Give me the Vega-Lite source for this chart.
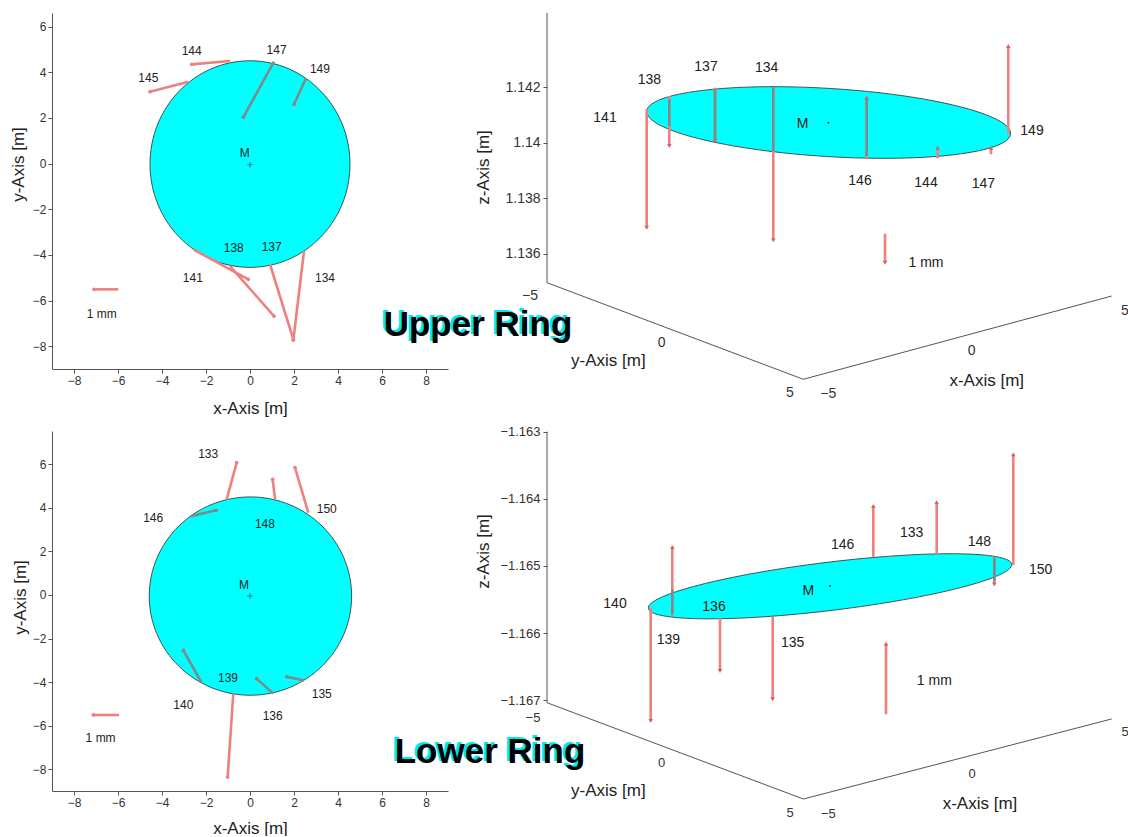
{
  "$schema": "https://vega.github.io/schema/vega-lite/v6.json",
  "background": "white",
  "padding": {"left": 9, "top": 12, "right": 0, "bottom": 0},
  "columns": 2,
  "spacing": {"row": 62, "column": 99},
  "bounds": "flush",
  "align": "each",
  "config": {
    "view": {"stroke": null},
    "font": "Liberation Sans",
    "axis": {
      "grid": false,
      "domainColor": "#555",
      "tickColor": "#555",
      "labelColor": "#333",
      "titleColor": "#222",
      "titleFontWeight": "normal",
      "titleFont": "Liberation Sans",
      "titleFontSize": 17,
      "labelFont": "Liberation Sans Narrow, Liberation Sans",
      "labelFontSize": 12,
      "tickSize": 4,
      "labelPadding": 2
    },
    "text": {"color": "#222"}
  },
  "datasets": {
    "ul_disc": [{"x": 0, "y": -0.02}],
    "ul_center": [{"x": 0, "y": -0.05}],
    "ul_arrows": [
      {"point": "144", "x": -0.909, "y": 4.5, "x_end": -2.65, "y_end": 4.35, "side": "outside"},
      {"point": "145", "x": -2.8, "y": 3.59, "x_end": -4.545, "y_end": 3.15, "side": "outside"},
      {"point": "147", "x": 1.09, "y": 4.47, "x_end": -0.3, "y_end": 2.04, "side": "inside"},
      {"point": "149", "x": 2.545, "y": 3.74, "x_end": 2.0, "y_end": 2.6, "side": "inside"},
      {"point": "141", "x": -2.577, "y": -3.76, "x_end": -0.077, "y_end": -5.07, "side": "outside"},
      {"point": "138", "x": -0.909, "y": -4.49, "x_end": 1.09, "y_end": -6.68, "side": "outside"},
      {"point": "137", "x": 0.909, "y": -4.41, "x_end": 1.97, "y_end": -7.7, "side": "outside"},
      {"point": "134", "x": 2.455, "y": -3.83, "x_end": 1.97, "y_end": -7.74, "side": "outside"},
      {"point": "1 mm", "x": -5.99, "y": -5.51, "x_end": -7.09, "y_end": -5.51, "side": "outside"}
    ],
    "ul_labels": [
      {"text": "144", "x": -2.65, "y": 4.93},
      {"text": "145", "x": -4.62, "y": 3.76},
      {"text": "147", "x": 1.21, "y": 4.97},
      {"text": "149", "x": 3.18, "y": 4.13},
      {"text": "141", "x": -2.6, "y": -5.03},
      {"text": "138", "x": -0.74, "y": -3.68},
      {"text": "137", "x": 0.985, "y": -3.66},
      {"text": "134", "x": 3.41, "y": -5.03},
      {"text": "1 mm", "x": -6.74, "y": -6.58},
      {"text": "M", "x": -0.24, "y": 0.48}
    ],
    "ll_disc": [{"x": 0.02, "y": -0.05}],
    "ll_center": [{"x": 0, "y": -0.05}],
    "ll_arrows": [
      {"point": "133", "x": -1.06, "y": 4.39, "x_end": -0.605, "y_end": 6.08, "side": "outside"},
      {"point": "148", "x": 1.14, "y": 4.39, "x_end": 1.03, "y_end": 5.31, "side": "outside"},
      {"point": "146", "x": -2.73, "y": 3.6, "x_end": -1.545, "y_end": 3.89, "side": "inside"},
      {"point": "150", "x": 2.65, "y": 3.78, "x_end": 2.045, "y_end": 5.85, "side": "outside"},
      {"point": "140", "x": -2.2, "y": -4.03, "x_end": -3.03, "y_end": -2.54, "side": "inside"},
      {"point": "139", "x": -0.76, "y": -4.53, "x_end": -1.015, "y_end": -8.36, "side": "outside"},
      {"point": "136", "x": 1.06, "y": -4.53, "x_end": 0.3, "y_end": -3.84, "side": "inside"},
      {"point": "135", "x": 2.45, "y": -3.92, "x_end": 1.67, "y_end": -3.75, "side": "inside"},
      {"point": "1 mm", "x": -5.95, "y": -5.51, "x_end": -7.12, "y_end": -5.51, "side": "outside"}
    ],
    "ll_labels": [
      {"text": "133", "x": -1.9, "y": 6.46},
      {"text": "146", "x": -4.4, "y": 3.55},
      {"text": "148", "x": 0.68, "y": 3.25},
      {"text": "150", "x": 3.49, "y": 3.93},
      {"text": "140", "x": -3.03, "y": -5.05},
      {"text": "139", "x": -1.0, "y": -3.83},
      {"text": "136", "x": 1.03, "y": -5.56},
      {"text": "135", "x": 3.26, "y": -4.56},
      {"text": "1 mm", "x": -6.79, "y": -6.55},
      {"text": "M", "x": -0.27, "y": 0.46}
    ],
    "ur_frame": [
      {"h": -7.0625, "z": 1.134948, "h_end": -7.0625, "z_end": 1.144667},
      {"h": -7.0625, "z": 1.134948, "h_end": -0.655, "z_end": 1.131467},
      {"h": -0.655, "z": 1.131467, "h_end": 7.055, "z_end": 1.134468}
    ],
    "ur_disc": [{"h": -0.02, "z": 1.140721}],
    "ur_center": [{"h": -0.03, "z": 1.140714}],
    "ur_arrows": [
      {"point": "141", "h": -4.57, "z": 1.141196, "z_end": 1.13693, "segment": "arrow", "direction": "down"},
      {"point": "138", "h": -4.005, "z": 1.141676, "z_end": 1.139874, "segment": "arrow", "direction": "down"},
      {"point": "137", "h": -2.8625, "z": 1.141975, "z_end": 1.140054, "segment": "arrow", "direction": "down"},
      {"point": "134", "h": -1.405, "z": 1.142, "z_end": 1.136476, "segment": "arrow", "direction": "down"},
      {"point": "146", "h": 0.93, "z": 1.139431, "z_end": 1.141614, "segment": "arrow", "direction": "up"},
      {"point": "144", "h": 2.705, "z": 1.139431, "z_end": 1.139813, "segment": "arrow", "direction": "up"},
      {"point": "147", "h": 4.0375, "z": 1.139575, "z_end": 1.139813, "segment": "arrow", "direction": "up"},
      {"point": "149", "h": 4.47, "z": 1.140295, "z_end": 1.143477, "segment": "arrow", "direction": "up"},
      {"point": "1 mm", "h": 1.3875, "z": 1.136713, "z_end": 1.135668, "segment": "arrow", "direction": "down"},
      {"point": "138", "h": -4.005, "z": 1.141557, "z_end": 1.140595, "segment": "inside", "direction": "none"},
      {"point": "137", "h": -2.8625, "z": 1.141917, "z_end": 1.140115, "segment": "inside", "direction": "none"},
      {"point": "134", "h": -1.405, "z": 1.142, "z_end": 1.139694, "segment": "inside", "direction": "none"},
      {"point": "146", "h": 0.93, "z": 1.139514, "z_end": 1.141557, "segment": "inside", "direction": "none"}
    ],
    "ur_labels": [
      {"text": "138", "h": -4.505, "z": 1.142241},
      {"text": "137", "h": -3.0875, "z": 1.142721},
      {"text": "134", "h": -1.57, "z": 1.142695},
      {"text": "141", "h": -5.6125, "z": 1.140883},
      {"text": "146", "h": 0.7625, "z": 1.138613},
      {"text": "144", "h": 2.4125, "z": 1.138551},
      {"text": "147", "h": 3.845, "z": 1.138494},
      {"text": "149", "h": 5.0625, "z": 1.140414},
      {"text": "1 mm", "h": 2.4125, "z": 1.135658},
      {"text": "M", "h": -0.67, "z": 1.140656}
    ],
    "ur_axis_labels": [
      {"text": "−5", "h": -7.4875, "z": 1.134469},
      {"text": "0", "h": -4.195, "z": 1.132786},
      {"text": "5", "h": -0.9875, "z": 1.130984},
      {"text": "−5", "h": -0.03, "z": 1.130948},
      {"text": "0", "h": 3.555, "z": 1.132486},
      {"text": "5", "h": 7.3875, "z": 1.133928}
    ],
    "ur_axis_titles": [
      {"text": "y-Axis [m]", "h": -5.53, "z": 1.132126},
      {"text": "x-Axis [m]", "h": 3.93, "z": 1.131405}
    ],
    "ur_title": [{"text": "Upper Ring", "h": -8.7875, "z": 1.133027}],
    "lr_frame": [
      {"h": -7.0625, "z": -1.167036, "h_end": -7.0625, "z_end": -1.163},
      {"h": -7.0625, "z": -1.167036, "h_end": -0.655, "z_end": -1.16847},
      {"h": -0.655, "z": -1.16847, "h_end": 7.055, "z_end": -1.167278}
    ],
    "lr_disc": [{"h": 0.0125, "z": -1.165302}],
    "lr_center": [{"h": 0.0125, "z": -1.165298}],
    "lr_arrows": [
      {"point": "140", "h": -4.47, "z": -1.165621, "z_end": -1.167308, "segment": "arrow", "direction": "down"},
      {"point": "139", "h": -3.93, "z": -1.165745, "z_end": -1.164717, "segment": "arrow", "direction": "up"},
      {"point": "136", "h": -2.7375, "z": -1.16577, "z_end": -1.166564, "segment": "arrow", "direction": "down"},
      {"point": "135", "h": -1.42, "z": -1.165755, "z_end": -1.166985, "segment": "arrow", "direction": "down"},
      {"point": "146", "h": 1.095, "z": -1.164862, "z_end": -1.164106, "segment": "arrow", "direction": "up"},
      {"point": "133", "h": 2.68, "z": -1.164826, "z_end": -1.164048, "segment": "arrow", "direction": "up"},
      {"point": "148", "h": 4.12, "z": -1.164862, "z_end": -1.165273, "segment": "arrow", "direction": "down"},
      {"point": "150", "h": 4.595, "z": -1.164985, "z_end": -1.163337, "segment": "arrow", "direction": "up"},
      {"point": "1 mm", "h": 1.4125, "z": -1.167208, "z_end": -1.166157, "segment": "arrow", "direction": "up"},
      {"point": "139", "h": -3.93, "z": -1.165347, "z_end": -1.165719, "segment": "inside", "direction": "none"},
      {"point": "148", "h": 4.12, "z": -1.164876, "z_end": -1.165223, "segment": "inside", "direction": "none"}
    ],
    "lr_labels": [
      {"text": "140", "h": -5.3625, "z": -1.165566},
      {"text": "139", "h": -4.03, "z": -1.166102},
      {"text": "136", "h": -2.8875, "z": -1.165606},
      {"text": "135", "h": -0.92, "z": -1.166142},
      {"text": "146", "h": 0.33, "z": -1.164687},
      {"text": "133", "h": 2.055, "z": -1.164504},
      {"text": "148", "h": 3.745, "z": -1.164638},
      {"text": "150", "h": 5.28, "z": -1.165064},
      {"text": "1 mm", "h": 2.62, "z": -1.166713},
      {"text": "M", "h": -0.53, "z": -1.165372}
    ],
    "lr_axis_labels": [
      {"text": "−5", "h": -7.4125, "z": -1.167262},
      {"text": "0", "h": -4.195, "z": -1.167934},
      {"text": "5", "h": -0.9875, "z": -1.168678},
      {"text": "−5", "h": -0.03, "z": -1.168693},
      {"text": "0", "h": 3.5625, "z": -1.168098},
      {"text": "5", "h": 7.3875, "z": -1.167472}
    ],
    "lr_axis_titles": [
      {"text": "y-Axis [m]", "h": -5.53, "z": -1.168351},
      {"text": "x-Axis [m]", "h": 3.7625, "z": -1.168545}
    ],
    "lr_title": [{"text": "Lower Ring", "h": -8.4875, "z": -1.167934}]
  },
  "concat": [
    {
      "width": 396,
      "height": 356,
      "encoding": {
        "x": {"field": "x", "type": "quantitative", "title": "x-Axis [m]", "scale": {"domain": [-9, 9], "nice": false, "zero": false}, "axis": {"values": [-8, -6, -4, -2, 0, 2, 4, 6, 8], "titleY": 39, "titleBaseline": "middle"}},
        "y": {"field": "y", "type": "quantitative", "title": "y-Axis [m]", "scale": {"domain": [-9, 6.6], "nice": false, "zero": false}, "axis": {"values": [-8, -6, -4, -2, 0, 2, 4, 6], "titleX": -34, "titleY": 151, "titleBaseline": "middle"}}
      },
      "layer": [
        {"data": {"name": "ul_disc"}, "mark": {"type": "point", "shape": "M-1,0A1,1.033,0,0,1,1,0A1,1.033,0,0,1,-1,0Z", "size": 40000, "filled": true, "fill": "#00ffff", "stroke": "#2a2a2a", "strokeWidth": 0.8, "opacity": 1}},
        {"data": {"name": "ul_arrows"}, "mark": {"type": "rule", "strokeWidth": 2.6}, "encoding": {"x2": {"field": "x_end"}, "y2": {"field": "y_end"}, "color": {"field": "side", "type": "nominal", "scale": {"domain": ["outside", "inside"], "range": ["#ee8080", "#7f8a8a"]}, "legend": null}}},
        {"data": {"name": "ul_arrows"}, "mark": {"type": "point", "filled": true, "size": 14, "opacity": 1}, "encoding": {"x": {"field": "x_end", "type": "quantitative", "title": "x-Axis [m]"}, "y": {"field": "y_end", "type": "quantitative", "title": "y-Axis [m]"}, "color": {"field": "side", "type": "nominal", "scale": {"domain": ["outside", "inside"], "range": ["#e06a6a", "#6f7a7a"]}, "legend": null}}},
        {"data": {"name": "ul_center"}, "mark": {"type": "point", "shape": "M-1,0L1,0M0,-1L0,1", "size": 30, "filled": false, "stroke": "#444", "strokeWidth": 0.7, "opacity": 1}},
        {"data": {"name": "ul_labels"}, "mark": {"type": "text", "fontSize": 12, "font": "Liberation Sans Narrow, Liberation Sans", "color": "#222"}, "encoding": {"text": {"field": "text"}}}
      ]
    },
    {
      "width": 575,
      "height": 356,
      "encoding": {
        "x": {"field": "h", "type": "quantitative", "scale": {"domain": [-7.0625, 7.3125], "nice": false, "zero": false}, "axis": null},
        "y": {"field": "z", "type": "quantitative", "title": "z-Axis [m]", "scale": {"domain": [1.131838, 1.144667], "nice": false, "zero": false}, "axis": {"values": [1.136, 1.138, 1.14, 1.142], "format": ".4~r", "domain": false, "labelFont": "Liberation Sans", "labelFontSize": 14, "labelPadding": 3, "titleX": -64, "titleY": 154, "titleBaseline": "middle"}}
      },
      "layer": [
        {"data": {"name": "ur_frame"}, "mark": {"type": "rule", "color": "#555", "strokeWidth": 1}, "encoding": {"x2": {"field": "h_end"}, "y2": {"field": "z_end"}}},
        {"data": {"name": "ur_disc"}, "mark": {"type": "point", "shape": "M-0.99809,-0.06175A1,0.18724,3.54,0,1,0.99809,0.06175A1,0.18724,3.54,0,1,-0.99809,-0.06175Z", "size": 132977, "filled": true, "fill": "#00ffff", "stroke": "#2a2a2a", "strokeWidth": 0.8, "opacity": 1}},
        {"data": {"name": "ur_arrows"}, "mark": {"type": "rule", "strokeWidth": 2.6}, "encoding": {"y2": {"field": "z_end"}, "color": {"field": "segment", "type": "nominal", "scale": {"domain": ["arrow", "inside"], "range": ["#ee8080", "#7f8a8a"]}, "legend": null}}},
        {"data": {"name": "ur_arrows"}, "transform": [{"filter": "datum.segment == 'arrow'"}], "mark": {"type": "point", "filled": true, "size": 20, "opacity": 1, "color": "#d86060"}, "encoding": {"y": {"field": "z_end", "type": "quantitative", "title": "z-Axis [m]"}, "shape": {"field": "direction", "type": "nominal", "scale": {"domain": ["up", "down"], "range": ["triangle-up", "triangle-down"]}, "legend": null}}},
        {"data": {"name": "ur_center"}, "mark": {"type": "point", "filled": true, "size": 4, "color": "#333", "opacity": 1}},
        {"data": {"name": "ur_labels"}, "mark": {"type": "text", "fontSize": 14, "color": "#222"}, "encoding": {"text": {"field": "text"}}},
        {"data": {"name": "ur_axis_labels"}, "mark": {"type": "text", "fontSize": 14, "color": "#333"}, "encoding": {"text": {"field": "text"}}},
        {"data": {"name": "ur_axis_titles"}, "mark": {"type": "text", "fontSize": 17, "color": "#222"}, "encoding": {"text": {"field": "text"}}},
        {"data": {"name": "ur_title"}, "mark": {"type": "text", "fontSize": 35, "fontWeight": "bold", "baseline": "alphabetic", "color": "#00e8f0", "dx": -3, "dy": -2}, "encoding": {"text": {"field": "text"}}},
        {"data": {"name": "ur_title"}, "mark": {"type": "text", "fontSize": 35, "fontWeight": "bold", "baseline": "alphabetic", "color": "#000000"}, "encoding": {"text": {"field": "text"}}}
      ]
    },
    {
      "width": 396,
      "height": 360,
      "encoding": {
        "x": {"field": "x", "type": "quantitative", "title": "x-Axis [m]", "scale": {"domain": [-9, 9], "nice": false, "zero": false}, "axis": {"values": [-8, -6, -4, -2, 0, 2, 4, 6, 8], "titleY": 37, "titleBaseline": "middle"}},
        "y": {"field": "y", "type": "quantitative", "title": "y-Axis [m]", "scale": {"domain": [-9, 7.53], "nice": false, "zero": false}, "axis": {"values": [-8, -6, -4, -2, 0, 2, 4, 6], "titleX": -32, "titleY": 166, "titleBaseline": "middle"}}
      },
      "layer": [
        {"data": {"name": "ll_disc"}, "mark": {"type": "point", "shape": "M-1,0A1,0.98,0,0,1,1,0A1,0.98,0,0,1,-1,0Z", "size": 40966, "filled": true, "fill": "#00ffff", "stroke": "#2a2a2a", "strokeWidth": 0.8, "opacity": 1}},
        {"data": {"name": "ll_arrows"}, "mark": {"type": "rule", "strokeWidth": 2.6}, "encoding": {"x2": {"field": "x_end"}, "y2": {"field": "y_end"}, "color": {"field": "side", "type": "nominal", "scale": {"domain": ["outside", "inside"], "range": ["#ee8080", "#7f8a8a"]}, "legend": null}}},
        {"data": {"name": "ll_arrows"}, "mark": {"type": "point", "filled": true, "size": 14, "opacity": 1}, "encoding": {"x": {"field": "x_end", "type": "quantitative", "title": "x-Axis [m]"}, "y": {"field": "y_end", "type": "quantitative", "title": "y-Axis [m]"}, "color": {"field": "side", "type": "nominal", "scale": {"domain": ["outside", "inside"], "range": ["#e06a6a", "#6f7a7a"]}, "legend": null}}},
        {"data": {"name": "ll_center"}, "mark": {"type": "point", "shape": "M-1,0L1,0M0,-1L0,1", "size": 30, "filled": false, "stroke": "#444", "strokeWidth": 0.7, "opacity": 1}},
        {"data": {"name": "ll_labels"}, "mark": {"type": "text", "fontSize": 12, "font": "Liberation Sans Narrow, Liberation Sans", "color": "#222"}, "encoding": {"text": {"field": "text"}}}
      ]
    },
    {
      "width": 575,
      "height": 360,
      "encoding": {
        "x": {"field": "h", "type": "quantitative", "scale": {"domain": [-7.0625, 7.3125], "nice": false, "zero": false}, "axis": null},
        "y": {"field": "z", "type": "quantitative", "title": "z-Axis [m]", "scale": {"domain": [-1.1683507, -1.1629896], "nice": false, "zero": false}, "axis": {"values": [-1.167, -1.166, -1.165, -1.164, -1.163], "format": ".4~r", "domain": false, "labelFont": "Liberation Sans", "labelFontSize": 13, "labelPadding": 3, "titleX": -64, "titleY": 120, "titleBaseline": "middle"}}
      },
      "layer": [
        {"data": {"name": "lr_frame"}, "mark": {"type": "rule", "color": "#555", "strokeWidth": 1}, "encoding": {"x2": {"field": "h_end"}, "y2": {"field": "z_end"}}},
        {"data": {"name": "lr_disc"}, "mark": {"type": "point", "shape": "M-0.99272,0.12049A1,0.13185,-6.92,0,1,0.99272,-0.12049A1,0.13185,-6.92,0,1,-0.99272,0.12049Z", "size": 133971, "filled": true, "fill": "#00ffff", "stroke": "#2a2a2a", "strokeWidth": 0.8, "opacity": 1}},
        {"data": {"name": "lr_arrows"}, "mark": {"type": "rule", "strokeWidth": 2.6}, "encoding": {"y2": {"field": "z_end"}, "color": {"field": "segment", "type": "nominal", "scale": {"domain": ["arrow", "inside"], "range": ["#ee8080", "#7f8a8a"]}, "legend": null}}},
        {"data": {"name": "lr_arrows"}, "transform": [{"filter": "datum.segment == 'arrow'"}], "mark": {"type": "point", "filled": true, "size": 20, "opacity": 1, "color": "#d86060"}, "encoding": {"y": {"field": "z_end", "type": "quantitative", "title": "z-Axis [m]"}, "shape": {"field": "direction", "type": "nominal", "scale": {"domain": ["up", "down"], "range": ["triangle-up", "triangle-down"]}, "legend": null}}},
        {"data": {"name": "lr_center"}, "mark": {"type": "point", "filled": true, "size": 4, "color": "#333", "opacity": 1}},
        {"data": {"name": "lr_labels"}, "mark": {"type": "text", "fontSize": 14, "color": "#222"}, "encoding": {"text": {"field": "text"}}},
        {"data": {"name": "lr_axis_labels"}, "mark": {"type": "text", "fontSize": 13, "color": "#333"}, "encoding": {"text": {"field": "text"}}},
        {"data": {"name": "lr_axis_titles"}, "mark": {"type": "text", "fontSize": 17, "color": "#222"}, "encoding": {"text": {"field": "text"}}},
        {"data": {"name": "lr_title"}, "mark": {"type": "text", "fontSize": 35, "fontWeight": "bold", "baseline": "alphabetic", "color": "#00e8f0", "dx": -3, "dy": -2}, "encoding": {"text": {"field": "text"}}},
        {"data": {"name": "lr_title"}, "mark": {"type": "text", "fontSize": 35, "fontWeight": "bold", "baseline": "alphabetic", "color": "#000000"}, "encoding": {"text": {"field": "text"}}}
      ]
    }
  ]
}
